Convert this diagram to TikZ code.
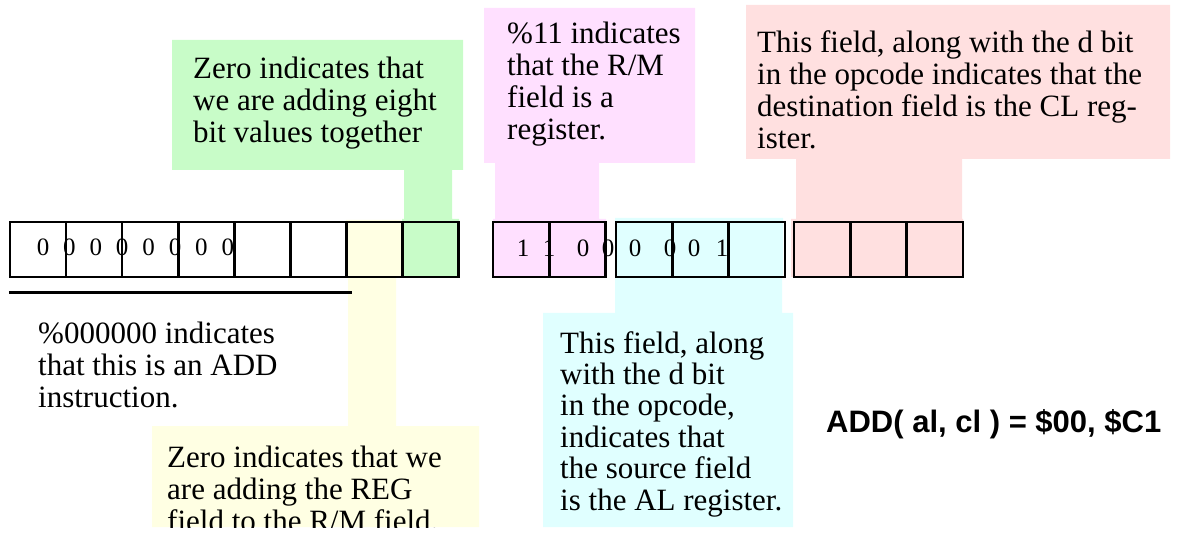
\documentclass[tikz,border=0pt]{standalone}
\usepackage{fontspec}
\setmainfont{Liberation Serif}
\newfontfamily\addfont{Liberation Sans}
\usetikzlibrary{positioning,calc}
\definecolor{NOTE-GREEN}{RGB}{200, 252, 200}
\definecolor{NOTE-PINK}{RGB}{255, 224, 255}
\definecolor{NOTE-RED}{RGB}{255, 224, 224}
\definecolor{NOTE-CYAN}{RGB}{224, 255, 255}
\definecolor{NOTE-YELLOW}{RGB}{255, 255, 227}

\begin{document}
\begin{tikzpicture}[x=1pt, y=-1pt,
  bitcell/.style={draw, line width=2.5pt, minimum width=56pt, minimum height=55pt, inner sep=0pt},
  bitdigit/.style={anchor=base, inner sep=0pt, font=\fontsize{25}{28}\selectfont},
  note/.style={anchor=base west, inner sep=0pt, align=left, font=\fontsize{31}{32}\selectfont}]
  \useasboundingbox (0,0) rectangle (1178,534);

  % Callout backgrounds
  \fill[NOTE-GREEN] (172,40) rectangle (463,170) (404,170) rectangle (452,222) (402,219) rectangle (459,277);
  \fill[NOTE-PINK] (484,8) rectangle (695,163) (495,163) rectangle (599,222) (493,219) rectangle (606,277);
  \fill[NOTE-RED] (746,5) rectangle (1170,159) (796,159) rectangle (962,222) (791,219) rectangle (963,277);
  \fill[NOTE-CYAN] (615,218) rectangle (783,277) (615,277) rectangle (782,313) (543,313) rectangle (793,527);
  \fill[NOTE-YELLOW] (346,220) rectangle (401,277) (348,277) rectangle (396,426) (152,426) rectangle (479,527);

  % Opcode byte
  \foreach \i in {0,...,7}
    \node[bitcell] (op\i) at ({38+56.1*\i},249.5) {};
  \foreach \i in {0,...,7}
    \node[bitdigit] (opd\i) at ({43+26.4*\i},256) {0};

  % mod-reg-r/m byte
  \foreach \i in {0,1}
    \node[bitcell] (mod\i) at ({521+56.5*\i},249.5) {};
  \foreach \i in {0,1,2}
    \node[bitcell] (reg\i) at ({644.2+56.3*\i},249.5) {};
  \foreach \i in {0,1,2}
    \node[bitcell] (rm\i) at ({822.2+56.3*\i},249.5) {};
  \foreach \x/\b [count=\k] in {523/1,549/1,583/0,608/0,635/0,670/0,694/0,722/1}
    \node[bitdigit] (md\k) at (\x,257) {\b};

  % Opcode underline
  \draw[line width=2.5pt] ([yshift=-14.5pt]op0.south west) -- ([yshift=-14.5pt,xshift=4pt]op5.south east);

  % Notes (placed at the baseline of their last line)
  \node[note] (wbit) at (193,143) {Zero indicates that\\we are adding eight\\bit values together};
  \node[note] (modnote) at (507,140) {\%11 indicates\\that the R/M\\field is a\\register.};
  \node[note] (rmnote) at (757,149) {This field, along with the d bit\\in the opcode indicates that the\\destination field is the CL reg-\\ister.};
  \node[note, font=\fontsize{31}{31.4}\selectfont] (regnote) at (560,510) {This field, along\\with the d bit\\in the opcode,\\indicates that\\the source field\\is the AL register.};
  \node[note] (opnote) at (38,407) {\%000000 indicates\\that this is an ADD\\instruction.};
  \begin{scope}
    \clip (152,426) rectangle (479,527);
    \node[note] (dbit) at (167,531) {Zero indicates that we\\are adding the REG\\field to the R/M field.};
  \end{scope}

  % Result
  \node[anchor=base west, inner sep=0pt, font=\addfont\bfseries\fontsize{31}{34}\selectfont] (result) at (826,432) {ADD( al, cl ) = \$00, \$C1};
\end{tikzpicture}
\end{document}
